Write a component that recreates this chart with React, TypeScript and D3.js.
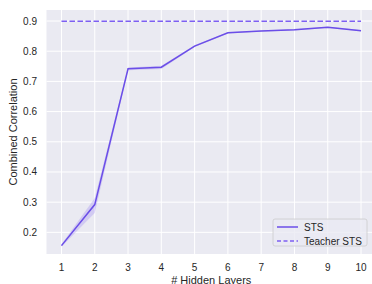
import React, { useEffect, useRef } from "react";
import * as d3 from "d3";

const layers = [1, 2, 3, 4, 5, 6, 7, 8, 9, 10];
const stsMean = [0.156, 0.292, 0.742, 0.747, 0.817, 0.861, 0.867, 0.871, 0.879, 0.868];
const stsLow = [0.152, 0.264, 0.737, 0.741, 0.814, 0.859, 0.865, 0.869, 0.877, 0.866];
const stsHigh = [0.161, 0.314, 0.746, 0.752, 0.82, 0.863, 0.869, 0.873, 0.881, 0.87];
const teacherSts = 0.899;
const yTicks = [0.2, 0.3, 0.4, 0.5, 0.6, 0.7, 0.8, 0.9];

const W = 372;
const H = 284;
const margin = { left: 46.5, top: 10, right: -4, bottom: 30 };
const FONT = "'Liberation Sans', Arial, sans-serif";

export default function App() {
  const ref = useRef<SVGSVGElement>(null);

  useEffect(() => {
    const svg = d3.select(ref.current);
    svg.selectAll("*").remove();

    const x = d3
      .scaleLinear()
      .domain([0.55, 10.45])
      .range([margin.left, W - margin.right]);
    const y = d3
      .scaleLinear()
      .domain([0.1283, 0.9365])
      .range([H - margin.bottom, margin.top]);

    svg
      .append("rect")
      .attr("x", margin.left)
      .attr("y", margin.top)
      .attr("width", W - margin.right - margin.left)
      .attr("height", H - margin.bottom - margin.top)
      .attr("fill", "#eaeaf2");

    const grid = svg.append("g").attr("stroke", "#ffffff").attr("stroke-width", 1);
    grid
      .selectAll("line.gx")
      .data(layers)
      .join("line")
      .attr("x1", (d) => x(d))
      .attr("x2", (d) => x(d))
      .attr("y1", margin.top)
      .attr("y2", H - margin.bottom);
    grid
      .selectAll("line.gy")
      .data(yTicks)
      .join("line")
      .attr("class", "gy")
      .attr("x1", margin.left)
      .attr("x2", W - margin.right)
      .attr("y1", (d) => y(d))
      .attr("y2", (d) => y(d));

    // tick labels
    svg
      .append("g")
      .selectAll("text")
      .data(layers)
      .join("text")
      .attr("x", (d) => x(d))
      .attr("y", 271)
      .attr("text-anchor", "middle")
      .attr("font-family", FONT)
      .attr("font-size", 10)
      .attr("fill", "#262626")
      .text((d) => d);
    svg
      .append("g")
      .selectAll("text")
      .data(yTicks)
      .join("text")
      .attr("x", 37)
      .attr("y", (d) => y(d))
      .attr("dy", "0.35em")
      .attr("text-anchor", "end")
      .attr("font-family", FONT)
      .attr("font-size", 10)
      .attr("fill", "#262626")
      .text((d) => d3.format(".1f")(d));

    // axis labels
    svg
      .append("text")
      .attr("x", x(5.5))
      .attr("y", 283.5)
      .attr("text-anchor", "middle")
      .attr("font-family", FONT)
      .attr("font-size", 11)
      .attr("fill", "#262626")
      .text("# Hidden Layers");
    svg
      .append("text")
      .attr("transform", `translate(17,${(margin.top + H - margin.bottom) / 2}) rotate(-90)`)
      .attr("text-anchor", "middle")
      .attr("font-family", FONT)
      .attr("font-size", 11)
      .attr("fill", "#262626")
      .text("Combined Correlation");

    // confidence band
    const area = d3
      .area<number>()
      .x((d) => x(d))
      .y0((_, i) => y(stsLow[i]))
      .y1((_, i) => y(stsHigh[i]));
    svg
      .append("path")
      .attr("d", area(layers))
      .attr("fill", "#7b5cf0")
      .attr("fill-opacity", 0.22);

    const line = d3
      .line<number>()
      .x((d) => x(d))
      .y((_, i) => y(stsMean[i]));
    svg
      .append("path")
      .attr("d", line(layers))
      .attr("fill", "none")
      .attr("stroke", "#6b4ee8")
      .attr("stroke-width", 1.5);

    svg
      .append("line")
      .attr("x1", x(layers[0]))
      .attr("x2", x(layers[layers.length - 1]))
      .attr("y1", y(teacherSts))
      .attr("y2", y(teacherSts))
      .attr("stroke", "#7d5ff2")
      .attr("stroke-width", 1.5)
      .attr("stroke-dasharray", "5.5,2.5");

    // legend
    const lg = svg.append("g").attr("transform", "translate(273,219)");
    lg.append("rect")
      .attr("width", 94)
      .attr("height", 27)
      .attr("rx", 2)
      .attr("fill", "#eaeaf2")
      .attr("fill-opacity", 0.8)
      .attr("stroke", "#cccccc")
      .attr("stroke-width", 0.8);
    const items = [
      { label: "STS", dash: null, color: "#6b4ee8" },
      { label: "Teacher STS", dash: "4,2.5", color: "#7d5ff2" },
    ];
    items.forEach((it, i) => {
      const yy = 8 + i * 14;
      lg.append("line")
        .attr("x1", 4)
        .attr("x2", 25)
        .attr("y1", yy)
        .attr("y2", yy)
        .attr("stroke", it.color)
        .attr("stroke-width", 1.5)
        .attr("stroke-dasharray", it.dash);
      lg.append("text")
        .attr("x", 31)
        .attr("y", yy)
        .attr("dy", "0.35em")
        .attr("font-family", FONT)
        .attr("font-size", 10)
        .attr("fill", "#262626")
        .text(it.label);
    });
  }, []);

  return (
    <svg
      ref={ref}
      width={W}
      height={H}
      style={{ position: "absolute", left: 0, top: 0, background: "#ffffff" }}
    />
  );
}
